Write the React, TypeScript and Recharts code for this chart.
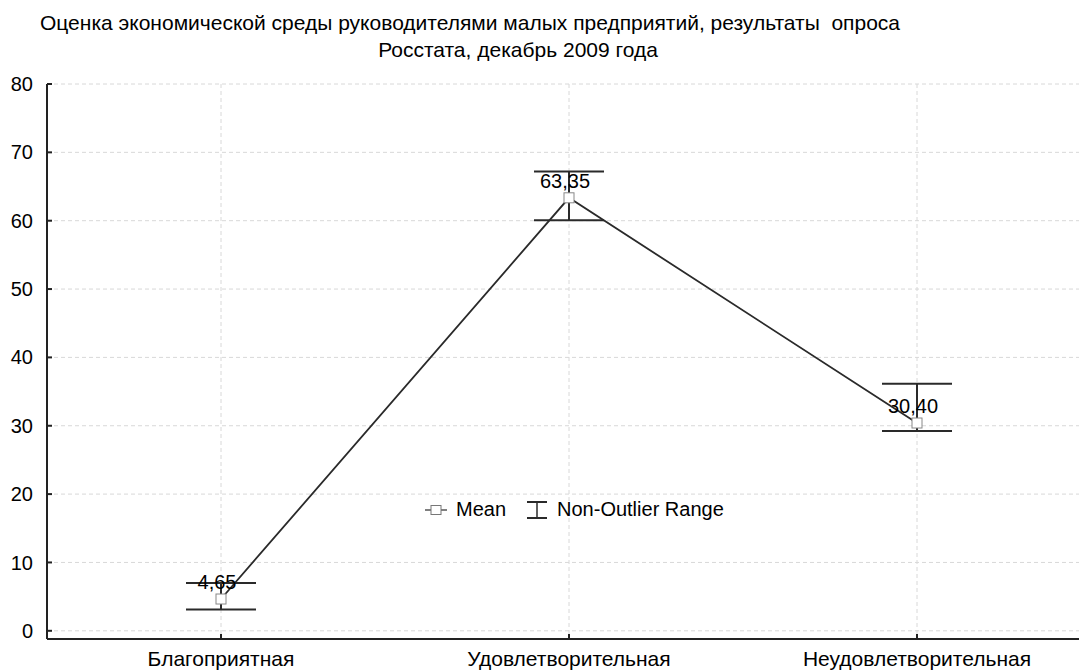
import {
  ComposedChart,
  Line,
  XAxis,
  YAxis,
  CartesianGrid,
  ErrorBar,
  LabelList,
  Legend,
} from "recharts";

const CATEGORIES = ["Благоприятная", "Удовлетворительная", "Неудовлетворительная"];
const MEANS = [4.65, 63.35, 30.4];
const RANGE_MIN = [3.1, 60.05, 29.25];
const RANGE_MAX = [7.0, 67.2, 36.15];
const Y_TICKS = [0, 10, 20, 30, 40, 50, 60, 70, 80];

const TITLE_1 =
  "Оценка экономической среды руководителями малых предприятий, результаты  опроса";
const TITLE_2 = "Росстата, декабрь 2009 года";

const AXIS_COLOR = "#222";
const LINE_COLOR = "#2a2a2a";

const data = CATEGORIES.map((category, i) => ({
  category,
  mean: MEANS[i],
  range: [MEANS[i] - RANGE_MIN[i], RANGE_MAX[i] - MEANS[i]],
}));

function SquareDot(props: { cx?: number; cy?: number; index?: number }) {
  const { cx, cy, index } = props;
  if (cx == null || cy == null) return null;
  return (
    <rect
      key={`dot-${index}`}
      x={cx - 5}
      y={cy - 5}
      width={10}
      height={10}
      fill="#fff"
      stroke="#888"
      strokeWidth={1}
    />
  );
}

function LegendContent() {
  return (
    <div style={{ display: "flex", alignItems: "center", fontSize: 20, color: "#000" }}>
      <svg width={22} height={14}>
        <line x1={0} y1={7} x2={22} y2={7} stroke={LINE_COLOR} strokeWidth={1.2} />
        <rect x={6} y={2.5} width={10} height={9} fill="#fff" stroke="#777" />
      </svg>
      <span style={{ marginLeft: 9 }}>Mean</span>
      <svg width={22} height={18} style={{ marginLeft: 20 }}>
        <line x1={1} y1={1} x2={21} y2={1} stroke={LINE_COLOR} strokeWidth={2} />
        <line x1={11} y1={1} x2={11} y2={17} stroke={LINE_COLOR} strokeWidth={1.5} />
        <line x1={1} y1={17} x2={21} y2={17} stroke={LINE_COLOR} strokeWidth={2} />
      </svg>
      <span style={{ marginLeft: 9 }}>Non-Outlier Range</span>
    </div>
  );
}

const titleLine = {
  position: "absolute" as const,
  fontSize: 21,
  lineHeight: "26px",
  color: "#000",
  whiteSpace: "pre" as const,
  textAlign: "center" as const,
};

export default function App() {
  return (
    <div
      style={{
        position: "absolute",
        left: 0,
        top: 0,
        width: 1079,
        height: 670,
        overflow: "hidden",
        background: "#fff",
        fontFamily: "'Liberation Sans', Arial, sans-serif",
      }}
    >
      <div style={{ ...titleLine, left: 0, width: 940, top: 10 }}>{TITLE_1}</div>
      <div style={{ ...titleLine, left: 0, width: 1036, top: 37 }}>{TITLE_2}</div>
      <ComposedChart
        width={1100}
        height={670}
        data={data}
        margin={{ top: 84, right: 9, left: 0, bottom: 0 }}
      >
        <CartesianGrid
          stroke="#d8d8d8"
          strokeDasharray="4 3"
          xAxisId="bottom"
          yAxisId="y"
        />
        <XAxis
          xAxisId="bottom"
          dataKey="category"
          orientation="bottom"
          height={31}
          interval={0}
          padding={{ left: 174, right: 174 }}
          tickSize={-5}
          tickMargin={17}
          axisLine={{ stroke: AXIS_COLOR, strokeWidth: 2 }}
          tickLine={{ stroke: AXIS_COLOR, strokeWidth: 2 }}
          tick={{ fill: "#000", fontSize: 21 }}
        />
        <XAxis
          xAxisId="top"
          dataKey="category"
          orientation="top"
          height={0}
          interval={0}
          padding={{ left: 174, right: 174 }}
          tickSize={-5}
          tickFormatter={() => ""}
          axisLine={{ stroke: AXIS_COLOR, strokeWidth: 2 }}
          tickLine={{ stroke: AXIS_COLOR, strokeWidth: 2 }}
        />
        <YAxis
          yAxisId="y"
          width={47}
          domain={[-1.2, 80]}
          ticks={Y_TICKS}
          allowDataOverflow
          tickSize={-5}
          tickMargin={19}
          axisLine={{ stroke: AXIS_COLOR, strokeWidth: 2 }}
          tickLine={{ stroke: AXIS_COLOR, strokeWidth: 2 }}
          tick={{ fill: "#000", fontSize: 20 }}
        />
        <Legend
          content={<LegendContent />}
          verticalAlign="middle"
          layout="horizontal"
          wrapperStyle={{ position: "absolute", left: 425, top: 498, width: "auto" }}
        />
        <Line
          xAxisId="bottom"
          yAxisId="y"
          dataKey="mean"
          name="Mean"
          stroke={LINE_COLOR}
          strokeWidth={1.8}
          dot={<SquareDot />}
          activeDot={false}
          isAnimationActive={false}
        >
          <ErrorBar
            dataKey="range"
            direction="y"
            width={35}
            stroke={LINE_COLOR}
            strokeWidth={2}
            isAnimationActive={false}
          />
          <LabelList
            dataKey="mean"
            position="top"
            offset={10}
            dx={-4}
            fill="#000"
            fontSize={20}
            formatter={(v: number) => v.toFixed(2).replace(".", ",")}
          />
        </Line>
      </ComposedChart>
    </div>
  );
}
